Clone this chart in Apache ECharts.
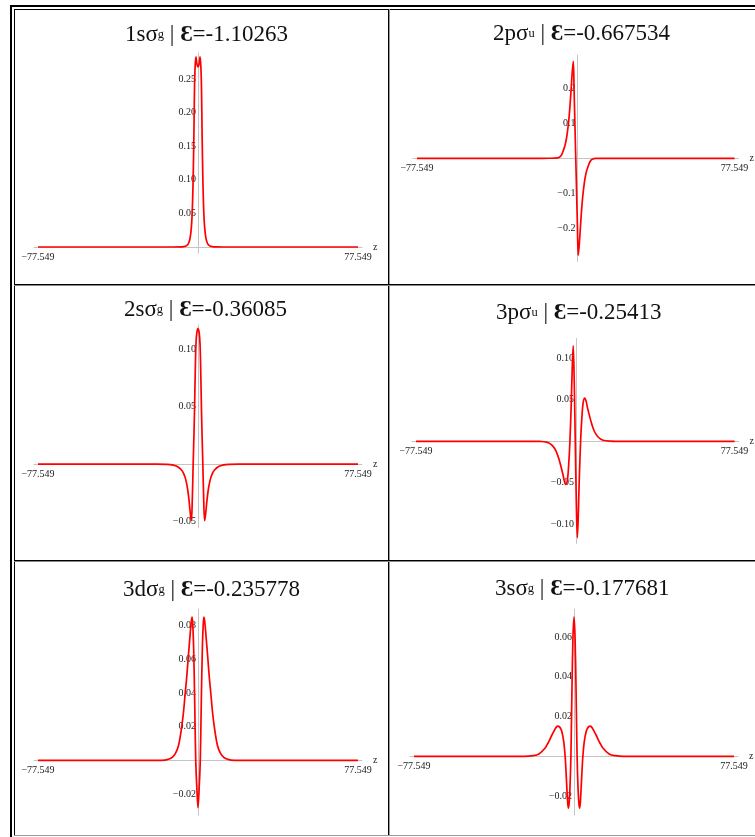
<!DOCTYPE html>
<html><head><meta charset="utf-8">
<script src="https://cdn.jsdelivr.net/npm/echarts@6/dist/echarts.min.js"></script>
<style>
html,body{margin:0;padding:0;background:#fff;overflow:hidden;width:755px;height:837px;}
#chart{position:absolute;left:0;top:0;width:755px;height:837px;}
.b{position:absolute;pointer-events:none;background:#000;}
</style></head><body>
<div id="chart"></div>
<div class="b" style="left:10px;top:5px;width:745px;height:2px"></div>
<div class="b" style="left:10px;top:5px;width:2px;height:832px"></div>
<div class="b" style="left:14px;top:9px;width:741px;height:1px"></div>
<div class="b" style="left:14px;top:9px;width:1px;height:827px"></div>
<div class="b" style="left:388px;top:9px;width:1px;height:827px"></div>
<div class="b" style="left:389px;top:9px;width:1px;height:827px;background:#999"></div>
<div class="b" style="left:14px;top:284px;width:741px;height:1px"></div>
<div class="b" style="left:14px;top:285px;width:741px;height:1px;background:#888"></div>
<div class="b" style="left:14px;top:560px;width:741px;height:1px"></div>
<div class="b" style="left:14px;top:561px;width:741px;height:1px;background:#888"></div>
<div class="b" style="left:14px;top:835px;width:741px;height:1px;background:#999"></div>
<script>
// ---------- data ----------
const xTickValues = [-77.549, 77.549];
const xTickLabels = ['\u221277.549', '77.549'];

const orbitalLabels = ['1s', '2p', '2s', '3p', '3d', '3s'];
const orbitalSubs = ['g', 'u', 'g', 'u', 'g', 'g'];
const energies = ['-1.10263', '-0.667534', '-0.36085', '-0.25413', '-0.235778', '-0.177681'];

const z1sg = [-77.549, -20, -12, -9, -7, -5.5, -4.5, -3.8, -3.2, -2.8, -2.4, -2.0, -1.7, -1.4, -1.0, -0.5, 0, 0.5, 1.0, 1.4, 1.7, 2.0, 2.4, 2.8, 3.2, 3.8, 4.5, 5.5, 7, 9, 12, 20, 77.549];
const psi1sg = [0, 0, 0, 0.0001, 0.0005, 0.002, 0.006, 0.014, 0.03, 0.052, 0.095, 0.165, 0.235, 0.268, 0.283, 0.272, 0.268, 0.272, 0.283, 0.268, 0.235, 0.165, 0.095, 0.052, 0.03, 0.014, 0.006, 0.002, 0.0005, 0.0001, 0, 0, 0];

const z2pu = [-77.549, -20, -13, -10, -8, -7, -6.1, -5.3, -4.5, -3.8, -3.2, -2.6, -2.0, -1.6, -1.2, -0.8, -0.4, 0, 0.4, 0.8, 1.2, 1.6, 2.0, 2.6, 3.2, 3.8, 4.5, 5.3, 6.1, 7, 8, 10, 13, 20, 77.549];
const psi2pu = [0, 0, 0.0001, 0.0004, 0.003, 0.009, 0.022, 0.036, 0.058, 0.088, 0.122, 0.168, 0.222, 0.254, 0.277, 0.19, 0.095, 0, -0.095, -0.19, -0.277, -0.254, -0.222, -0.168, -0.122, -0.088, -0.058, -0.036, -0.022, -0.009, -0.003, -0.0004, -0.0001, 0, 0];

const z2sg = [-77.549, -20, -15, -12, -10, -8, -7, -6, -5, -4.2, -3.6, -3.2, -2.8, -2.35, -1.9, -1.6, -1.3, -1.0, -0.6, 0, 0.6, 1.0, 1.3, 1.6, 1.9, 2.35, 2.8, 3.2, 3.6, 4.2, 5, 6, 7, 8, 10, 12, 15, 20, 77.549];
const psi2sg = [0, 0, -0.0002, -0.0008, -0.002, -0.005, -0.008, -0.013, -0.022, -0.034, -0.045, -0.049, -0.033, 0, 0.03, 0.055, 0.083, 0.104, 0.114, 0.118, 0.114, 0.104, 0.083, 0.055, 0.03, 0, -0.033, -0.049, -0.045, -0.034, -0.022, -0.013, -0.008, -0.005, -0.002, -0.0008, -0.0002, 0, 0];

const z3pu = [-77.549, -20, -17, -14, -12.5, -11, -9.4, -8, -7, -6, -5.2, -4.6, -3.8, -3.2, -2.6, -1.9, -1.4, -1.0, -0.5, 0, 0.5, 1.0, 1.4, 1.9, 2.6, 3.2, 3.8, 4.6, 5.2, 6, 7, 8, 9.4, 11, 12.5, 14, 17, 20, 77.549];
const psi3pu = [0, 0, -0.0002, -0.001, -0.0025, -0.0055, -0.0115, -0.021, -0.03, -0.04, -0.049, -0.052, -0.046, -0.028, 0, 0.05, 0.095, 0.115, 0.072, 0, -0.072, -0.116, -0.095, -0.05, 0, 0.028, 0.046, 0.052, 0.049, 0.04, 0.03, 0.021, 0.0115, 0.0055, 0.0025, 0.001, 0.0002, 0, 0];

const z3dg = [-77.549, -20, -16, -14, -12.5, -11, -9.4, -7.9, -7, -6.2, -5.5, -4.8, -4.0, -3.3, -2.85, -2.5, -2.1, -1.6, -1.1, -0.5, 0, 0.5, 1.1, 1.6, 2.1, 2.5, 2.85, 3.3, 4.0, 4.8, 5.5, 6.2, 7, 7.9, 9.4, 11, 12.5, 14, 16, 20, 77.549];
const psi3dg = [0, 0, 0.0002, 0.0008, 0.0018, 0.004, 0.009, 0.02, 0.029, 0.04, 0.049, 0.06, 0.072, 0.082, 0.085, 0.08, 0.066, 0.035, 0, -0.018, -0.028, -0.018, 0, 0.035, 0.066, 0.08, 0.085, 0.082, 0.072, 0.06, 0.049, 0.04, 0.029, 0.02, 0.009, 0.004, 0.0018, 0.0008, 0.0002, 0, 0];

const z3sg = [-77.549, -24, -20, -17, -14, -12.5, -10.7, -9, -7.9, -7, -6, -5, -4.3, -3.8, -3.3, -2.8, -2.4, -2.0, -1.5, -1.0, -0.5, 0, 0.5, 1.0, 1.5, 2.0, 2.4, 2.8, 3.3, 3.8, 4.3, 5, 6, 7, 7.9, 9, 10.7, 12.5, 14, 17, 20, 24, 77.549];
const psi3sg = [0, 0, 0.0003, 0.0012, 0.0042, 0.0068, 0.0107, 0.014, 0.0152, 0.0148, 0.0128, 0.0075, 0, -0.009, -0.019, -0.026, -0.024, -0.017, 0, 0.033, 0.06, 0.07, 0.06, 0.033, 0, -0.017, -0.024, -0.026, -0.019, -0.009, 0, 0.0075, 0.0128, 0.0148, 0.0152, 0.014, 0.0107, 0.0068, 0.0042, 0.0012, 0.0003, 0, 0];

const yTicks = [
  [0.05, 0.10, 0.15, 0.20, 0.25],
  [-0.2, -0.1, 0.1, 0.2],
  [-0.05, 0.05, 0.10],
  [-0.10, -0.05, 0.05, 0.10],
  [-0.02, 0.02, 0.04, 0.06, 0.08],
  [-0.02, 0.02, 0.04, 0.06]
];
const yTickDecimals = [2, 1, 2, 2, 2, 2];

const seriesZ = [z1sg, z2pu, z2sg, z3pu, z3dg, z3sg];
const seriesPsi = [psi1sg, psi2pu, psi2sg, psi3pu, psi3dg, psi3sg];

// ---------- layout (pixels) ----------
const panels = [
  {x0: 38,  x1: 358, zero: 247,   scale: 672,  ymax: 0.289,  ymin: -0.009,  tx: 125, ty: 35},
  {x0: 417, x1: 738, zero: 158.3, scale: 350,  ymax: 0.295,  ymin: -0.295,  tx: 493, ty: 33.5},
  {x0: 38,  x1: 358, zero: 464.2, scale: 1150, ymax: 0.121,  ymin: -0.055,  tx: 124, ty: 310},
  {x0: 416, x1: 736, zero: 441.3, scale: 830,  ymax: 0.124,  ymin: -0.123,  tx: 496, ty: 313},
  {x0: 38,  x1: 358, zero: 760.4, scale: 1685, ymax: 0.0897, ymin: -0.0325, tx: 123, ty: 590},
  {x0: 414, x1: 734, zero: 756.3, scale: 1990, ymax: 0.0739, ymin: -0.0296, tx: 495, ty: 588.5}
];
const X_AXIS_MIN = -79.5, X_AXIS_MAX = 79.5, Z_END = 77.549;
const SERIF = '"Liberation Serif", "Times New Roman", serif';

const grids = [], xAxes = [], yAxes = [], series = [], titles = [];
panels.forEach((p, i) => {
  const pxPerZ = (p.x1 - p.x0) / (2 * Z_END);
  const gridWidth = (X_AXIS_MAX - X_AXIS_MIN) * pxPerZ;
  grids.push({
    left: p.x0 - (X_AXIS_MAX - Z_END) * pxPerZ,
    width: gridWidth,
    top: p.zero - p.ymax * p.scale,
    height: (p.ymax - p.ymin) * p.scale,
    containLabel: false
  });
  xAxes.push({
    type: 'value', gridIndex: i, min: X_AXIS_MIN, max: X_AXIS_MAX,
    position: 'bottom', offset: p.ymin * p.scale,
    name: 'z', nameLocation: 'end', nameGap: 11,
    nameTextStyle: {fontFamily: SERIF, fontSize: 10, color: '#222', verticalAlign: 'middle', padding: [2, 0, 0, 0]},
    axisLine: {show: true, onZero: false, lineStyle: {color: '#c4c4c4', width: 1}},
    axisTick: {show: false},
    splitLine: {show: false},
    axisLabel: {
      customValues: xTickValues, margin: 5,
      fontFamily: SERIF, fontSize: 10, color: '#222',
      formatter: (v) => xTickLabels[xTickValues.indexOf(v)] ?? ''
    }
  });
  const dec = yTickDecimals[i];
  yAxes.push({
    type: 'value', gridIndex: i, min: p.ymin, max: p.ymax,
    position: 'left', offset: -(X_AXIS_MAX * pxPerZ),
    axisLine: {show: true, onZero: false, lineStyle: {color: '#c4c4c4', width: 1}},
    axisTick: {show: false},
    splitLine: {show: false},
    axisLabel: {
      customValues: yTicks[i], margin: 2,
      fontFamily: SERIF, fontSize: 10, color: '#222',
      formatter: (v) => v.toFixed(dec).replace('-', '\u2212')
    }
  });
  const zs = seriesZ[i], ps = seriesPsi[i];
  series.push({
    type: 'line', xAxisIndex: i, yAxisIndex: i,
    data: zs.map((z, k) => [z, ps[k]]),
    showSymbol: false, smooth: 0.35, silent: true, animation: false,
    lineStyle: {color: '#ff0000', width: 1.7},
    z: 1
  });
  titles.push({
    left: p.tx, top: p.ty, textVerticalAlign: 'middle', textAlign: 'left',
    text: '{n|' + orbitalLabels[i] + '\u03c3}{s|' + orbitalSubs[i] + '}{n| | }{e|\u0190}{n|=' + energies[i] + '}',
    padding: 0, itemGap: 0,
    textStyle: {
      fontWeight: 'normal', fontFamily: SERIF,
      rich: {
        n: {fontFamily: SERIF, fontSize: 23, fontWeight: 'normal', color: '#111'},
        s: {fontFamily: SERIF, fontSize: 12.5, fontWeight: 'normal', color: '#111'},
        e: {fontFamily: SERIF, fontSize: 23.5, fontWeight: 'bold', color: '#111'}
      }
    }
  });
});

const chart = echarts.init(document.getElementById('chart'), null, {renderer: 'canvas'});
chart.setOption({
  animation: false,
  backgroundColor: '#fff',
  title: titles,
  grid: grids,
  xAxis: xAxes,
  yAxis: yAxes,
  series: series
});
</script>
</body></html>
